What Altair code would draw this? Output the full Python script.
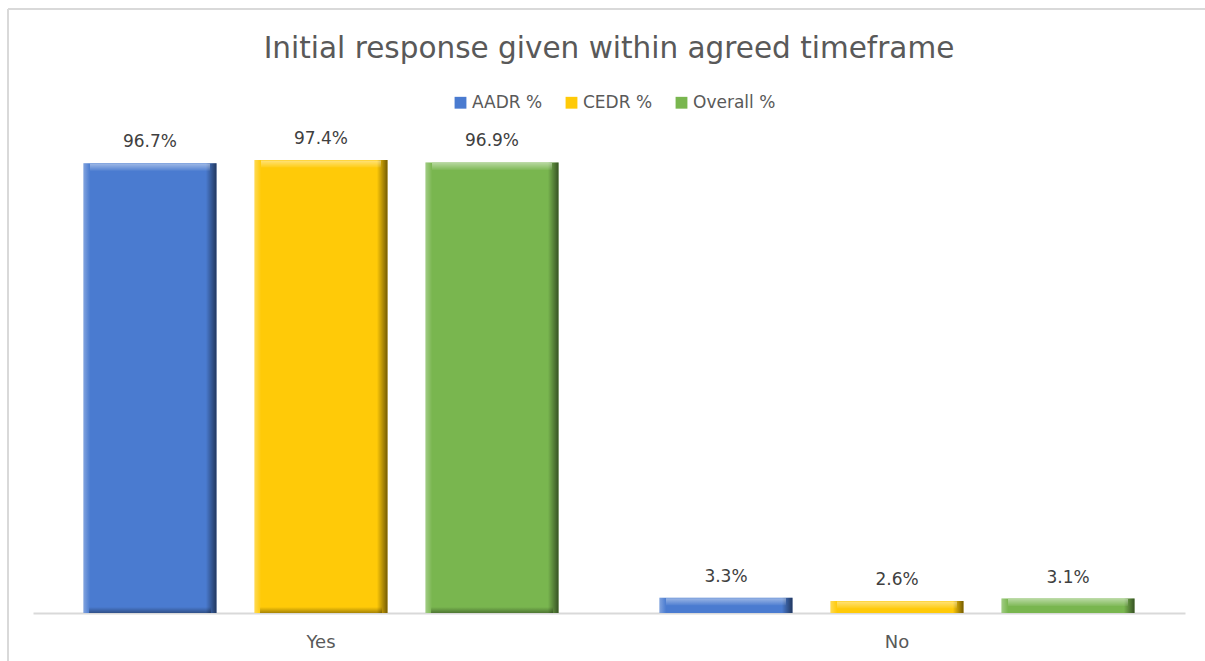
import altair as alt
import pandas as pd

categories = ["Yes", "No"]
series = ["AADR %", "CEDR %", "Overall %"]
aadr = [96.7, 3.3]
cedr = [97.4, 2.6]
overall = [96.9, 3.1]
colors = ["#4A7BD0", "#FFCA08", "#79B64F"]

rows = []
for i, c in enumerate(categories):
    for s, vals in zip(series, [aadr, cedr, overall]):
        rows.append({"category": c, "series": s, "value": vals[i],
                     "label": f"{vals[i]:.1f}%"})
df = pd.DataFrame(rows)

FONT = "DejaVu Sans"

x = alt.X("category:N", sort=categories, title=None,
          scale=alt.Scale(paddingInner=0, paddingOuter=0),
          axis=alt.Axis(labelAngle=0, labelFontSize=18, labelColor="#595959",
                        labelFont=FONT, tickSize=0, labelPadding=20,
                        domainColor="#D9D9D9", domainWidth=2, grid=False))
xo = alt.XOffset("series:N", sort=series,
                 scale=alt.Scale(domain=series, paddingInner=0.222, paddingOuter=0.295))
y = alt.Y("value:Q", scale=alt.Scale(domain=[0, 100]), axis=None, title=None)

bars = alt.Chart(df).mark_bar().encode(
    x=x, xOffset=xo, y=y,
    color=alt.Color("series:N", sort=series,
                    scale=alt.Scale(domain=series, range=colors),
                    legend=alt.Legend(title=None, orient="none", direction="horizontal",
                                      legendX=419, legendY=-54, symbolType="square",
                                      symbolSize=140, symbolStrokeWidth=0,
                                      labelFontSize=17, labelFont=FONT,
                                      labelColor="#595959", labelOffset=3,
                                      columnPadding=20))
)

side = alt.Gradient(gradient="linear", x1=0, x2=1, y1=0, y2=0, stops=[
    alt.GradientStop(color="rgba(255,255,255,0.30)", offset=0),
    alt.GradientStop(color="rgba(255,255,255,0)", offset=0.05),
    alt.GradientStop(color="rgba(0,0,0,0)", offset=0.92),
    alt.GradientStop(color="rgba(0,0,0,0.55)", offset=1),
])
side_layer = alt.Chart(df).mark_bar(fill=side).encode(x=x, xOffset=xo, y=y)

top_grad = alt.Gradient(gradient="linear", x1=0, x2=0, y1=0, y2=1, stops=[
    alt.GradientStop(color="rgba(255,255,255,0.45)", offset=0),
    alt.GradientStop(color="rgba(255,255,255,0.05)", offset=1),
])
top_layer = alt.Chart(df).mark_tick(fill=top_grad, thickness=7, size=120, yOffset=4,
                                    opacity=1).encode(x=x, xOffset=xo, y=y)

bottom_grad = alt.Gradient(gradient="linear", x1=0, x2=0, y1=0, y2=1, stops=[
    alt.GradientStop(color="rgba(0,0,0,0)", offset=0),
    alt.GradientStop(color="rgba(0,0,0,0.35)", offset=1),
])
big = df[df["value"] > 10]
bottom_layer = alt.Chart(big).mark_tick(fill=bottom_grad, thickness=6, size=122, yOffset=-3,
                                        opacity=1).encode(
    x=x, xOffset=xo, y=alt.Y("zero:Q", scale=alt.Scale(domain=[0, 100]), axis=None)
).transform_calculate(zero="0")

labels = alt.Chart(df).mark_text(baseline="bottom", dy=-12, fontSize=17, font=FONT,
                                 color="#404040").encode(
    x=x, xOffset=xo, y=y, text="label:N")

frame_top = alt.Chart(df).mark_rule(color="#D9D9D9", strokeWidth=2).encode(
    x=alt.value(-25), x2=alt.value(1200), y=alt.value(-139))
frame_left = alt.Chart(df).mark_rule(color="#D9D9D9", strokeWidth=2).encode(
    x=alt.value(-25), y=alt.value(-139), y2=alt.value(520))

chart = alt.layer(frame_top, frame_left, bars, side_layer, top_layer, bottom_layer,
                  labels).properties(
    width=1152, height=465,
    background="white",
    title=alt.Title("Initial response given within agreed timeframe", fontSize=29.5,
                    font=FONT, color="#595959", fontWeight="normal", anchor="middle",
                    offset=-56),
    autosize=alt.AutoSizeParams(type="none"),
    padding={"left": 33, "top": 148, "right": 20, "bottom": 48},
).configure_view(strokeWidth=0, stroke="transparent")

chart.save("out.html", embed_options={"renderer": "svg", "actions": False})
